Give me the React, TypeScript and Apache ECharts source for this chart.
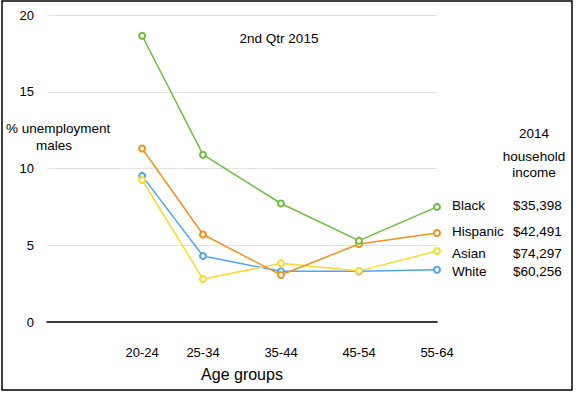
import React, { useEffect, useRef } from "react";
import * as echarts from "echarts";

const ageGroups = ["20-24", "25-34", "35-44", "45-54", "55-64"];
const ageGroupPositions = [1.22, 2, 3, 4, 5];
const yTicks = [0, 5, 10, 15, 20];

const blackValues = [18.65, 10.9, 7.72, 5.3, 7.5];
const hispanicValues = [11.3, 5.7, 3.06, 5.08, 5.8];
const asianValues = [9.25, 2.8, 3.82, 3.33, 4.62];
const whiteValues = [9.52, 4.3, 3.3, 3.3, 3.4];

const groupNames = ["Black", "Hispanic", "Asian", "White"];
const incomes = ["$35,398", "$42,491", "$74,297", "$60,256"];
const colors = ["#6fbc40", "#f0921f", "#fbd92f", "#4fa4f6"];

const FONT = "Liberation Sans, Arial, Helvetica, sans-serif";

export default function App() {
  const ref = useRef<HTMLDivElement>(null);
  useEffect(() => {
    if (!ref.current) return;
    const chart = echarts.init(ref.current, null, { renderer: "svg" });
    const seriesValues = [blackValues, hispanicValues, asianValues, whiteValues];
    const labelYs = [205, 231, 253, 271];
    chart.setOption({
      animation: false,
      backgroundColor: "#ffffff",
      textStyle: { fontFamily: FONT },
      grid: { left: 47, right: 139, top: 15, bottom: 74, containLabel: false },
      xAxis: {
        type: "value",
        min: 0,
        max: 5,
        splitLine: { show: false },
        axisLine: { show: true, onZero: true, lineStyle: { color: "#000", width: 1.5 } },
        axisTick: { show: false },
        axisLabel: {
          customValues: ageGroupPositions,
          formatter: (v: number) => {
            const i = ageGroupPositions.findIndex((p) => Math.abs(p - v) < 1e-6);
            return i >= 0 ? ageGroups[i] : "";
          },
          color: "#000",
          fontSize: 13,
          fontFamily: FONT,
          margin: 24,
        },
        name: "Age groups",
        nameLocation: "middle",
        nameGap: 44,
        nameTextStyle: { color: "#000", fontSize: 16, fontFamily: FONT, padding: [0, 0, 0, 0] },
      },
      yAxis: {
        type: "value",
        min: 0,
        max: 20,
        interval: 5,
        axisLine: { show: false },
        axisTick: { show: false },
        splitLine: { show: true, lineStyle: { color: "#e2e2e2", width: 1 } },
        axisLabel: { color: "#000", fontSize: 13, fontFamily: FONT, margin: 13 },
      },
      series: seriesValues.map((vals, si) => ({
        type: "line",
        name: groupNames[si],
        data: vals.map((v, i) => [ageGroupPositions[i], v]),
        symbol: "circle",
        symbolSize: 6,
        showSymbol: true,
        z: 10 - si,
        lineStyle: { color: colors[si], width: 1.5 },
        itemStyle: { color: "#ffffff", borderColor: colors[si], borderWidth: 2 },
      })),
      graphic: [
        {
          type: "rect",
          shape: { x: 2, y: 1, width: 570, height: 389 },
          style: { fill: "none", stroke: "#000", lineWidth: 1.5 },
          silent: true,
        },
        {
          type: "text",
          x: 279,
          y: 38,
          style: { text: "2nd Qtr 2015", font: `13.5px ${FONT}`, fill: "#000", align: "center", verticalAlign: "middle" },
        },
        {
          type: "text",
          x: 6,
          y: 128,
          style: { text: "% unemployment", font: `13.5px ${FONT}`, fill: "#000", align: "left", verticalAlign: "middle" },
        },
        {
          type: "text",
          x: 54,
          y: 145,
          style: { text: "males", font: `13.5px ${FONT}`, fill: "#000", align: "center", verticalAlign: "middle" },
        },
        {
          type: "text",
          x: 534,
          y: 133,
          style: { text: "2014", font: `13.5px ${FONT}`, fill: "#000", align: "center", verticalAlign: "middle" },
        },
        {
          type: "text",
          x: 534,
          y: 156,
          style: { text: "household", font: `13.5px ${FONT}`, fill: "#000", align: "center", verticalAlign: "middle" },
        },
        {
          type: "text",
          x: 534,
          y: 172,
          style: { text: "income", font: `13.5px ${FONT}`, fill: "#000", align: "center", verticalAlign: "middle" },
        },
        ...groupNames.map((n, i) => ({
          type: "text",
          x: 452,
          y: labelYs[i],
          style: { text: n, font: `13.5px ${FONT}`, fill: "#000", align: "left", verticalAlign: "middle" },
        })),
        ...incomes.map((n, i) => ({
          type: "text",
          x: 513,
          y: labelYs[i],
          style: { text: n, font: `13.5px ${FONT}`, fill: "#000", align: "left", verticalAlign: "middle" },
        })),
      ],
    });
    return () => chart.dispose();
  }, []);
  return <div ref={ref} style={{ width: 576, height: 396, position: "absolute", left: 0, top: 0 }} />;
}
